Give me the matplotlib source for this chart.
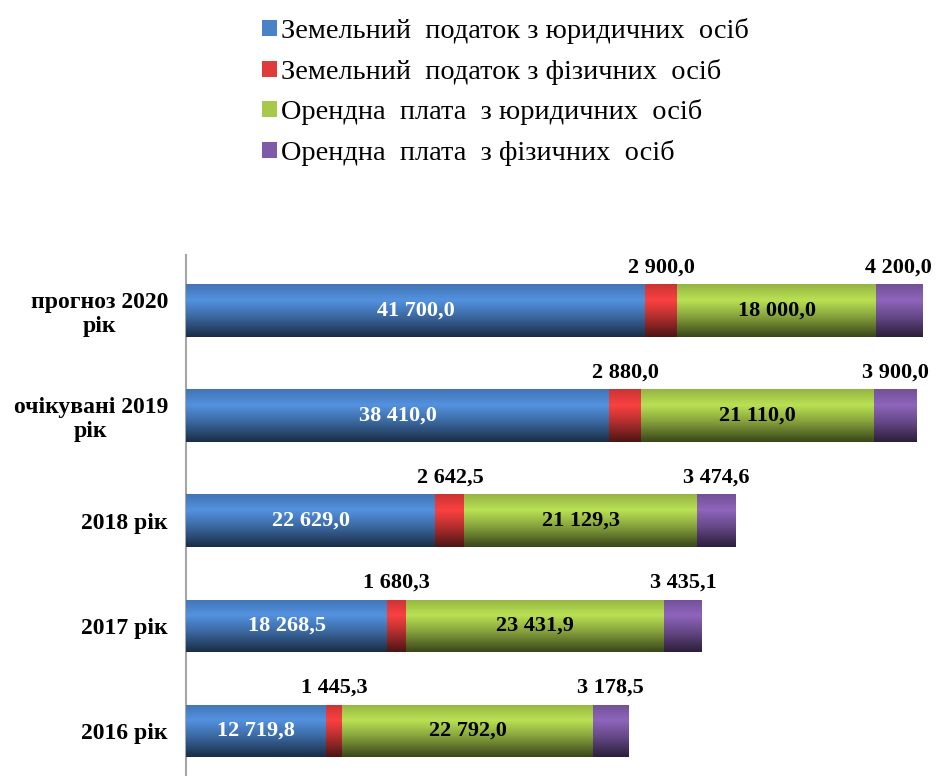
import matplotlib
matplotlib.use("Agg")
import matplotlib.pyplot as plt
import numpy as np
from matplotlib.colors import to_rgb

plt.rcParams['font.family'] = ['Liberation Serif', 'DejaVu Serif']

categories = ["2016 рік", "2017 рік", "2018 рік", "очікувані 2019\nрік", "прогноз 2020\nрік"]
land_tax_legal = [12719.8, 18268.5, 22629.0, 38410.0, 41700.0]
land_tax_phys = [1445.3, 1680.3, 2642.5, 2880.0, 2900.0]
rent_legal = [22792.0, 23431.9, 21129.3, 21110.0, 18000.0]
rent_phys = [3178.5, 3435.1, 3474.6, 3900.0, 4200.0]

series_names = ["Земельний  податок з юридичних  осіб",
                "Земельний  податок з фізичних  осіб",
                "Орендна  плата  з юридичних  осіб",
                "Орендна  плата  з фізичних  осіб"]
series = [land_tax_legal, land_tax_phys, rent_legal, rent_phys]
colors = ["#4a82c8", "#e03a3a", "#a6c94a", "#7f5aa8"]

def fmt(v):
    return f"{v:,.1f}".replace(",", " ").replace(".", ",")

fig = plt.figure(figsize=(9.43, 7.76), dpi=100)
ax = fig.add_axes([186/943, 0, (935-186)/943, (776-255)/776])

y = np.arange(len(categories))
left = np.zeros(len(categories))
height = 0.5

# brightness profile top->bottom
prof_t = np.linspace(0, 1, 64)
prof = np.interp(prof_t, [0, 0.3, 0.6, 1.0], [0.9, 1.12, 0.82, 0.35])

for k, (vals, col) in enumerate(zip(series, colors)):
    bars = ax.barh(y, vals, left=left, height=height, color=col,
                   edgecolor='none', label=series_names[k], zorder=2)
    base = np.array(to_rgb(col))
    img = np.clip(prof[:, None] * base[None, :], 0, 1)[:, None, :]
    for b in bars:
        x0, y0 = b.get_x(), b.get_y()
        w, h = b.get_width(), b.get_height()
        im = ax.imshow(img, extent=(x0, x0 + w, y0, y0 + h), origin='upper',
                       aspect='auto', zorder=3, interpolation='bilinear')
        im.set_clip_path(b)
    for i, v in enumerate(vals):
        cx = left[i] + v / 2
        if k == 0:
            ax.text(cx, y[i], fmt(v), ha='center', va='center', color='white',
                    fontsize=16, fontweight='bold', zorder=5)
        elif k == 2:
            ax.text(cx, y[i], fmt(v), ha='center', va='center', color='black',
                    fontsize=16, fontweight='bold', zorder=5)
        else:
            ax.text(cx, y[i] + 0.41, fmt(v), ha='center', va='center', color='black',
                    fontsize=16, fontweight='bold', zorder=5)
    left = left + np.array(vals)

ax.set_xlim(0, (935-186) / (736/66800))
ax.set_ylim(-0.43, 4.53)
ax.set_yticks(y)
ax.set_yticklabels(categories, fontsize=17, fontweight='bold', multialignment='center')
ax.tick_params(axis='y', length=0, pad=13)
ax.set_xticks([])
for s in ['top', 'right', 'bottom']:
    ax.spines[s].set_visible(False)
ax.spines['left'].set_color('#a6a6a6')
ax.spines['left'].set_linewidth(1.5)

handles = [plt.Rectangle((0, 0), 1, 1, facecolor=c) for c in colors]
fig.legend(handles, series_names, loc='upper left', bbox_to_anchor=(251/943, 1 - 7/776),
           frameon=False, fontsize=20.4, handlelength=0.5, handleheight=0.5,
           handletextpad=0.15, labelspacing=0.51, borderaxespad=0)

fig.savefig("out.png", dpi=100)
